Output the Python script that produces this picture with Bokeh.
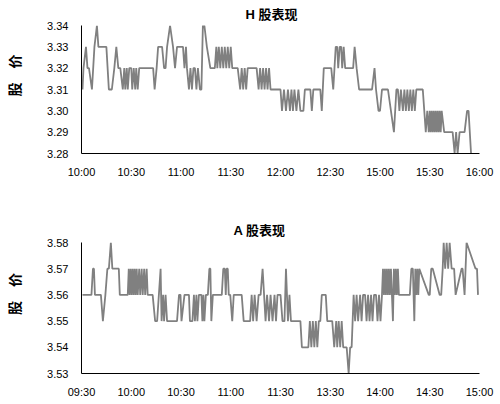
from bokeh.plotting import figure
from bokeh.layouts import column
from bokeh.models import FixedTicker, PrintfTickFormatter, Range1d
from bokeh.embed import file_html
from bokeh.resources import INLINE

# ---------------- data ----------------
# x positions are minutes on the chart's time axis (30 minutes per tick label)
h_ticks = [0, 30, 60, 90, 120, 150, 180, 210, 240]
h_tick_labels = ["10:00", "10:30", "11:00", "11:30", "12:00", "12:30", "15:00", "15:30", "16:00"]
h_y_ticks = [3.28, 3.29, 3.30, 3.31, 3.32, 3.33, 3.34]

h_time = [0.6, 1.2, 2.7, 3.6, 4.5, 6.3, 7.8, 9.3, 10.2, 15.0, 16.5, 18.3, 19.8, 21.0, 22.2, 23.4,
          24.9, 25.8, 26.4, 27.3, 27.9, 28.8, 30.0, 30.6, 31.5, 32.4, 33.0, 33.9, 34.8, 43.2, 44.1,
          45.3, 46.2, 48.6, 49.8, 50.7, 51.6, 53.4, 55.2, 56.4, 57.6, 61.2, 62.1, 63.0, 63.6, 64.8,
          65.7, 66.6, 67.5, 68.4, 69.3, 70.2, 71.4, 72.3, 73.2, 74.1, 75.6, 77.7, 80.4, 81.3, 81.9,
          82.8, 83.7, 84.6, 85.5, 86.4, 87.3, 88.2, 89.1, 90.0, 90.9, 94.2, 95.7, 96.6, 97.5, 98.4,
          99.3, 100.2, 105.6, 106.8, 107.7, 108.6, 109.5, 110.4, 111.3, 112.2, 113.1, 114.0, 120.0,
          120.9, 122.1, 123.3, 124.5, 125.7, 126.6, 127.5, 128.4, 129.6, 130.8, 132.0, 133.8, 134.7,
          138.0, 138.9, 139.8, 144.0, 144.9, 146.1, 150.6, 151.8, 153.3, 154.2, 154.8, 155.7, 156.6,
          157.2, 158.1, 159.0, 163.8, 164.7, 165.9, 167.4, 175.2, 176.7, 177.6, 179.1, 180.0, 181.2,
          184.8, 186.6, 188.4, 189.9, 190.8, 191.7, 192.6, 193.8, 194.7, 195.6, 196.5, 197.4, 198.3,
          199.2, 200.1, 201.0, 201.9, 205.8, 207.6, 208.5, 209.4, 210.0, 210.6, 211.2, 211.8, 212.4,
          213.0, 213.6, 214.2, 214.8, 215.4, 216.0, 216.6, 217.2, 218.7, 223.8, 225.0, 225.9, 226.8,
          228.0, 231.0, 232.5, 233.4, 234.9]
h_price = [3.31, 3.32, 3.33, 3.32, 3.32, 3.31, 3.33, 3.34, 3.33, 3.33, 3.31, 3.31, 3.32, 3.33, 3.32, 3.32,
           3.31, 3.32, 3.31, 3.32, 3.31, 3.32, 3.32, 3.31, 3.32, 3.31, 3.32, 3.31, 3.32, 3.32, 3.31,
           3.32, 3.33, 3.33, 3.32, 3.32, 3.33, 3.34, 3.33, 3.32, 3.33, 3.33, 3.32, 3.33, 3.32, 3.31,
           3.32, 3.31, 3.32, 3.32, 3.31, 3.32, 3.31, 3.31, 3.34, 3.34, 3.33, 3.32, 3.32, 3.33, 3.32,
           3.33, 3.32, 3.33, 3.32, 3.33, 3.32, 3.33, 3.32, 3.33, 3.32, 3.32, 3.31, 3.32, 3.31, 3.32,
           3.31, 3.32, 3.32, 3.31, 3.32, 3.31, 3.32, 3.31, 3.32, 3.31, 3.32, 3.31, 3.31,
           3.30, 3.31, 3.30, 3.31, 3.30, 3.31, 3.30, 3.31, 3.30, 3.31, 3.30, 3.30, 3.31,
           3.31, 3.30, 3.31, 3.31, 3.30, 3.32, 3.32, 3.31, 3.33, 3.33, 3.32, 3.33, 3.33,
           3.32, 3.33, 3.32, 3.32, 3.33, 3.32, 3.31, 3.31, 3.32, 3.31, 3.30, 3.30, 3.31,
           3.31, 3.30, 3.29, 3.31, 3.31, 3.30, 3.31, 3.30, 3.31, 3.30, 3.31, 3.30, 3.31,
           3.30, 3.31, 3.30, 3.31, 3.31, 3.29, 3.30, 3.29, 3.30, 3.29, 3.30, 3.29, 3.30,
           3.29, 3.30, 3.29, 3.30, 3.29, 3.30, 3.29, 3.30, 3.29, 3.29, 3.28, 3.29, 3.28,
           3.29, 3.29, 3.30, 3.30, 3.28]

a_ticks = [0, 30, 60, 90, 120, 150, 180, 210, 240]
a_tick_labels = ["09:30", "10:00", "10:30", "11:00", "11:30", "13:30", "14:00", "14:30", "15:00"]
a_y_ticks = [3.53, 3.54, 3.55, 3.56, 3.57, 3.58]

a_time = [0.6, 6.0, 6.9, 7.5, 8.1, 11.7, 12.9, 14.4, 15.6, 16.5, 17.7, 18.6, 22.5, 23.1, 27.9, 28.5,
          29.1, 29.7, 30.3, 30.9, 31.5, 32.1, 32.7, 33.3, 33.9, 34.8, 35.4, 36.3, 36.9, 37.8, 38.4,
          39.3, 39.9, 42.9, 44.4, 45.6, 47.7, 48.3, 49.2, 49.8, 50.7, 51.6, 57.6, 58.8, 59.7, 60.3,
          62.1, 64.8, 65.4, 66.9, 67.8, 68.4, 69.3, 69.9, 70.8, 72.3, 72.9, 73.5, 74.1, 75.0, 76.2,
          77.1, 77.7, 78.3, 79.2, 84.6, 85.5, 86.4, 87.0, 87.5, 88.2, 88.8, 89.7, 90.9, 91.8, 96.6,
          97.8, 101.7, 102.6, 103.5, 104.4, 105.6, 106.8, 108.0, 109.2, 110.1, 111.0, 111.9, 113.1,
          114.0, 115.2, 116.4, 117.3, 118.2, 120.0, 121.2, 122.4, 123.3, 124.5, 125.4, 126.3, 132.0,
          132.9, 136.8, 137.7, 138.6, 139.5, 140.4, 141.3, 142.2, 143.1, 144.0, 144.9, 147.3, 148.2,
          151.2, 152.4, 153.6, 154.2, 155.1, 156.0, 156.9, 157.8, 159.9, 161.1, 162.0, 162.9, 164.1,
          165.0, 165.9, 166.8, 168.0, 168.9, 169.8, 171.0, 171.9, 172.8, 173.7, 174.6, 175.5, 176.4,
          177.6, 178.5, 179.4, 180.3, 181.2, 181.8, 182.4, 183.0, 183.6, 184.2, 184.8, 185.4, 186.0,
          186.6, 187.2, 187.8, 188.4, 189.0, 189.6, 190.2, 190.8, 191.4, 197.4, 198.0, 198.9, 199.8,
          200.7, 201.3, 201.9, 202.5, 203.1, 203.7, 209.4, 210.0, 210.9, 211.8, 216.0, 216.9, 217.8,
          218.4, 219.3, 220.2, 221.1, 222.0, 223.2, 224.7, 225.6, 229.2, 229.8, 231.0, 232.2, 237.6,
          238.5, 239.1]
a_price = [3.56, 3.56, 3.57, 3.57, 3.56, 3.56, 3.55, 3.56, 3.57, 3.57, 3.58, 3.57, 3.57, 3.56, 3.56, 3.57,
           3.56, 3.57, 3.56, 3.57, 3.56, 3.57, 3.56, 3.57, 3.56, 3.57, 3.56, 3.57, 3.56, 3.57, 3.56,
           3.57, 3.56, 3.56, 3.55, 3.55, 3.57, 3.55, 3.56, 3.55, 3.56, 3.55, 3.55, 3.56, 3.56, 3.55,
           3.56, 3.56, 3.55, 3.55, 3.56, 3.55, 3.56, 3.55, 3.56, 3.56, 3.55, 3.56, 3.55, 3.56, 3.56,
           3.57, 3.57, 3.55, 3.56, 3.56, 3.57, 3.57, 3.56, 3.57, 3.57, 3.56, 3.56, 3.55, 3.56, 3.56,
           3.55, 3.55, 3.56, 3.55, 3.56, 3.55, 3.56, 3.56, 3.57, 3.56, 3.55, 3.56, 3.55,
           3.56, 3.55, 3.56, 3.55, 3.56, 3.56, 3.55, 3.55, 3.57, 3.55, 3.56, 3.55, 3.55,
           3.54, 3.54, 3.55, 3.54, 3.55, 3.54, 3.55, 3.54, 3.55, 3.55, 3.56, 3.56, 3.55,
           3.55, 3.54, 3.55, 3.54, 3.55, 3.54, 3.55, 3.54, 3.54, 3.53, 3.54, 3.54, 3.56,
           3.55, 3.56, 3.55, 3.56, 3.55, 3.56, 3.56, 3.55, 3.56, 3.55, 3.56, 3.55, 3.56,
           3.56, 3.55, 3.56, 3.55, 3.56, 3.57, 3.56, 3.57, 3.56, 3.57, 3.56, 3.57, 3.56,
           3.57, 3.56, 3.55, 3.57, 3.56, 3.57, 3.56, 3.57, 3.56, 3.56, 3.56, 3.57, 3.57, 3.55,
           3.57, 3.56, 3.57, 3.56, 3.57, 3.56, 3.56, 3.57, 3.57, 3.56, 3.56, 3.57, 3.58,
           3.57, 3.58, 3.57, 3.58, 3.57, 3.57, 3.56, 3.57, 3.57, 3.56, 3.58, 3.57, 3.57,
           3.56, 3.57]

h_title = "H 股表现"
a_title = "A 股表现"
y_title = "\u3000\u3000股\u3000价"

# ---------------- style ----------------
LINE_COLOR = "#808080"
TICK_FONT = "Liberation Sans"
CJK_FONT = "Liberation Sans, Noto Sans CJK SC"
W = 495
LEFT = 81
FRAME_W = 398


def make_chart(times, prices, ticks, tick_labels, y_ticks, title, title_offset, title_standoff,
               height, top, bottom, xstand):
    p = figure(width=W, height=height, output_backend="svg", toolbar_location=None,
               x_range=Range1d(ticks[0], ticks[-1]),
               y_range=Range1d(y_ticks[0], y_ticks[-1]),
               min_border_left=LEFT, min_border_right=W - LEFT - FRAME_W,
               min_border_top=top, min_border_bottom=bottom)
    p.outline_line_color = None
    p.grid.visible = False
    p.line(times, prices, line_color=LINE_COLOR, line_width=1.8)

    p.title.text = title
    p.title.align = "left"
    p.title.offset = title_offset
    p.title.standoff = title_standoff
    p.title.text_font = CJK_FONT
    p.title.text_font_style = "bold"
    p.title.text_font_size = "13px"
    p.title.text_color = "black"

    p.xaxis.ticker = FixedTicker(ticks=ticks)
    p.xaxis.major_label_overrides = {t: lab for t, lab in zip(ticks, tick_labels)}
    p.yaxis.ticker = FixedTicker(ticks=y_ticks)
    p.yaxis.formatter = PrintfTickFormatter(format="%.2f")
    for ax in (p.xaxis[0], p.yaxis[0]):
        ax.axis_line_color = "black"
        ax.axis_line_width = 1
        ax.major_tick_line_color = None
        ax.minor_tick_line_color = None
        ax.major_tick_out = 0
        ax.major_tick_in = 0
        ax.major_label_text_font = TICK_FONT
        ax.major_label_text_font_size = "11px"
        ax.major_label_text_color = "black"
    p.xaxis.major_label_standoff = xstand
    p.yaxis.major_label_standoff = 13

    p.yaxis.axis_label = y_title
    p.yaxis.axis_label_text_font = "Noto Sans CJK SC"
    p.yaxis.axis_label_text_font_style = "bold"
    p.yaxis.axis_label_text_font_size = "14px"
    p.yaxis.axis_label_text_color = "black"
    p.yaxis.axis_label_standoff = 20
    return p


p1 = make_chart(h_time, h_price, h_ticks, h_tick_labels, h_y_ticks, h_title, 164, 8,
                height=180, top=24, bottom=26, xstand=12)
p2 = make_chart(a_time, a_price, a_ticks, a_tick_labels, a_y_ticks, a_title, 152, 10,
                height=220, top=62, bottom=26, xstand=12)

layout = column(p1, p2, spacing=0)
open("out.html", "w").write(file_html(layout, INLINE))
